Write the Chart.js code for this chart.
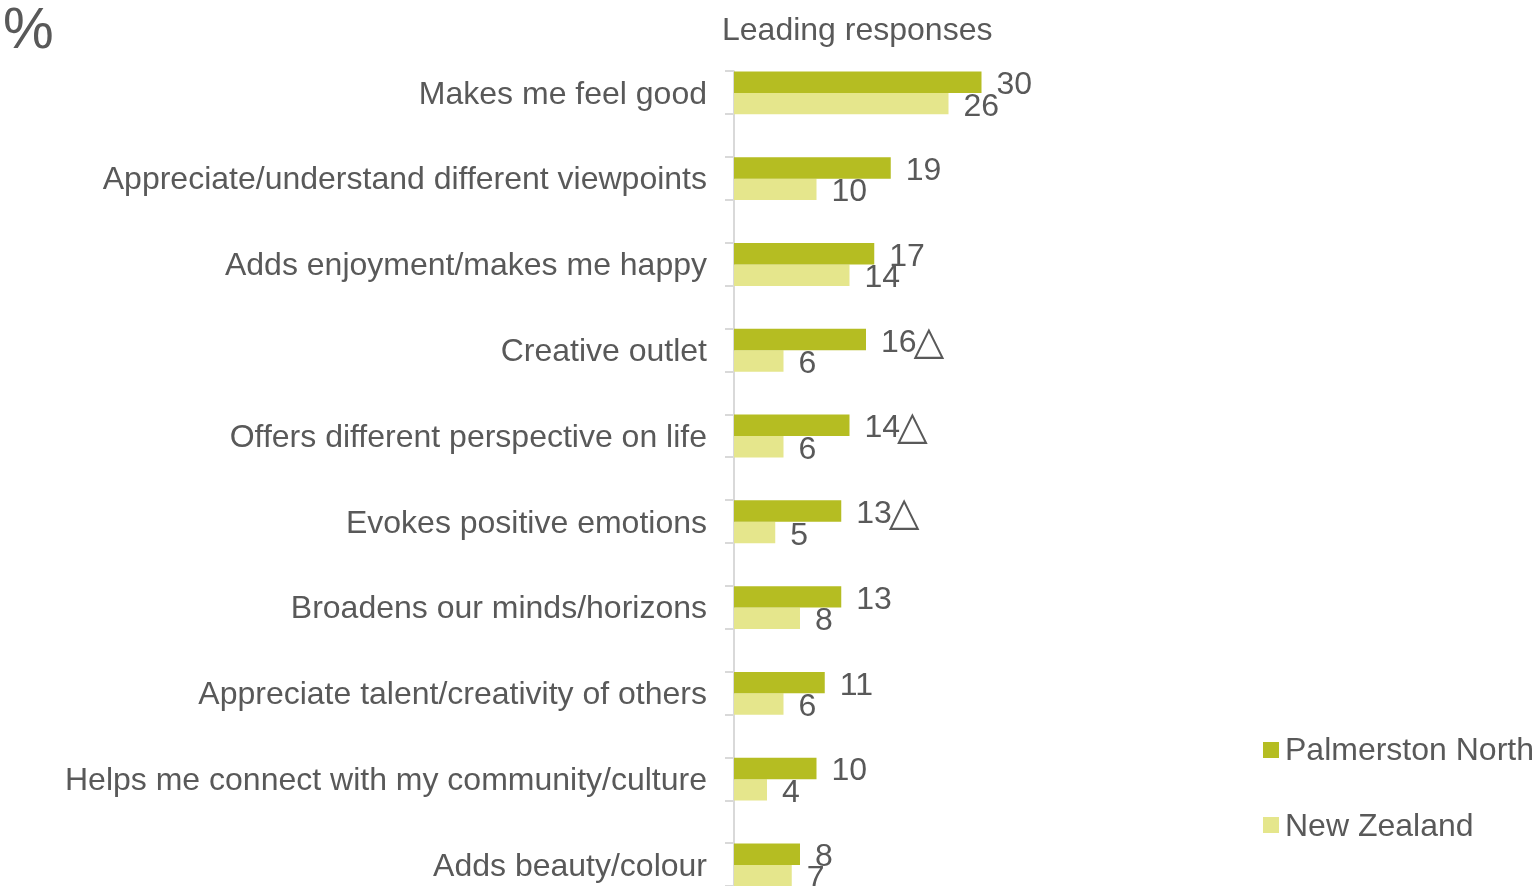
<!DOCTYPE html>
<html><head><meta charset="utf-8">
<script src="https://cdn.jsdelivr.net/npm/chart.js@4.4.1/dist/chart.umd.min.js"></script>
<style>
html,body{margin:0;padding:0;background:#fff;overflow:hidden;width:1537px;height:886px;}
#wrap{position:absolute;left:0;top:0;width:1537px;height:950px;}
.t{position:absolute;font-family:"Liberation Sans",Arial,sans-serif;color:#595959;white-space:nowrap;line-height:1;}
.sw{position:absolute;width:16px;height:16px;}
</style></head><body>
<div id="wrap"><canvas id="c" width="1537" height="946"></canvas></div>
<div class="t" style="left:3px;top:0px;font-size:57px;">%</div>
<div class="t" style="left:722px;top:13px;font-size:32px;">Leading responses</div>
<div class="sw" id="sw0" style="left:1263px;top:742px;"></div>
<div class="t" id="lg0" style="left:1285px;top:733px;font-size:32px;"></div>
<div class="sw" id="sw1" style="left:1263px;top:817px;"></div>
<div class="t" id="lg1" style="left:1285px;top:809px;font-size:32px;"></div>
<script>
const categories = [
  "Makes me feel good",
  "Appreciate/understand different viewpoints",
  "Adds enjoyment/makes me happy",
  "Creative outlet",
  "Offers different perspective on life",
  "Evokes positive emotions",
  "Broadens our minds/horizons",
  "Appreciate talent/creativity of others",
  "Helps me connect with my community/culture",
  "Adds beauty/colour"
];
const seriesNames = ["Palmerston North", "New Zealand"];
const palmerstonNorth = [30, 19, 17, 16, 14, 13, 13, 11, 10, 8];
const newZealand = [26, 10, 14, 6, 6, 5, 8, 6, 4, 7];
const significance = ["", "", "", "△", "△", "△", "", "", "", ""];

const colors = ["#b5bd22", "#e5e68c"];
const textColor = "#595959";
const FONT = '"Liberation Sans", Arial, sans-serif';

seriesNames.forEach((n, i) => {
  document.getElementById('lg' + i).textContent = n;
  document.getElementById('sw' + i).style.background = colors[i];
});

const axisPlugin = {
  id: 'axisTicks',
  beforeDatasetsDraw(chart) {
    const ctx = chart.ctx, ca = chart.chartArea;
    const m0 = chart.getDatasetMeta(0), m1 = chart.getDatasetMeta(1);
    ctx.save();
    ctx.strokeStyle = '#d9d9d9';
    ctx.lineWidth = 2;
    const x = ca.left;
    const top0 = m0.data[0].y - m0.data[0].height / 2;
    ctx.beginPath();
    ctx.moveTo(x, top0 - 1);
    ctx.lineTo(x, chart.height);
    ctx.stroke();
    ctx.beginPath();
    for (let i = 0; i < categories.length; i++) {
      const t = Math.round(m0.data[i].y - m0.data[i].height / 2);
      const b = Math.round(m1.data[i].y + m1.data[i].height / 2);
      ctx.moveTo(x - 9, t); ctx.lineTo(x, t);
      ctx.moveTo(x - 9, b); ctx.lineTo(x, b);
    }
    ctx.stroke();
    ctx.restore();
  }
};

const labelPlugin = {
  id: 'valueLabels',
  afterDatasetsDraw(chart) {
    const ctx = chart.ctx;
    ctx.save();
    ctx.fillStyle = textColor;
    ctx.textAlign = 'left';
    ctx.textBaseline = 'alphabetic';
    chart.data.datasets.forEach((ds, di) => {
      const meta = chart.getDatasetMeta(di);
      meta.data.forEach((el, i) => {
        const txt = String(ds.data[i]);
        const x = el.x + 15;
        const y = el.y + 12;
        ctx.font = '32px ' + FONT;
        ctx.fillText(txt, x, y);
        if (di === 0 && significance[i]) {
          const w = ctx.measureText(txt).width;
          ctx.font = '40px "DejaVu Sans", sans-serif';
          ctx.fillText(significance[i], x + w - 3, y + 2);
        }
      });
    });
    ctx.restore();
  }
};

new Chart(document.getElementById('c'), {
  type: 'bar',
  data: {
    labels: categories,
    datasets: [
      { label: seriesNames[0], data: palmerstonNorth, backgroundColor: colors[0], categoryPercentage: 0.5, barPercentage: 1.0 },
      { label: seriesNames[1], data: newZealand, backgroundColor: colors[1], categoryPercentage: 0.5, barPercentage: 1.0 }
    ]
  },
  options: {
    indexAxis: 'y',
    responsive: false,
    animation: false,
    devicePixelRatio: 1,
    layout: { padding: { top: 50, bottom: 0, left: 0, right: 143 } },
    plugins: { legend: { display: false }, tooltip: { enabled: false }, title: { display: false } },
    scales: {
      x: { display: false, min: 0, max: 80 },
      y: {
        grid: { display: false },
        border: { display: false },
        ticks: { padding: 19, labelOffset: 2, color: textColor, font: { size: 32, family: FONT } },
        afterFit(s) { s.width = 734; }
      }
    }
  },
  plugins: [axisPlugin, labelPlugin]
});
</script>
</body></html>
